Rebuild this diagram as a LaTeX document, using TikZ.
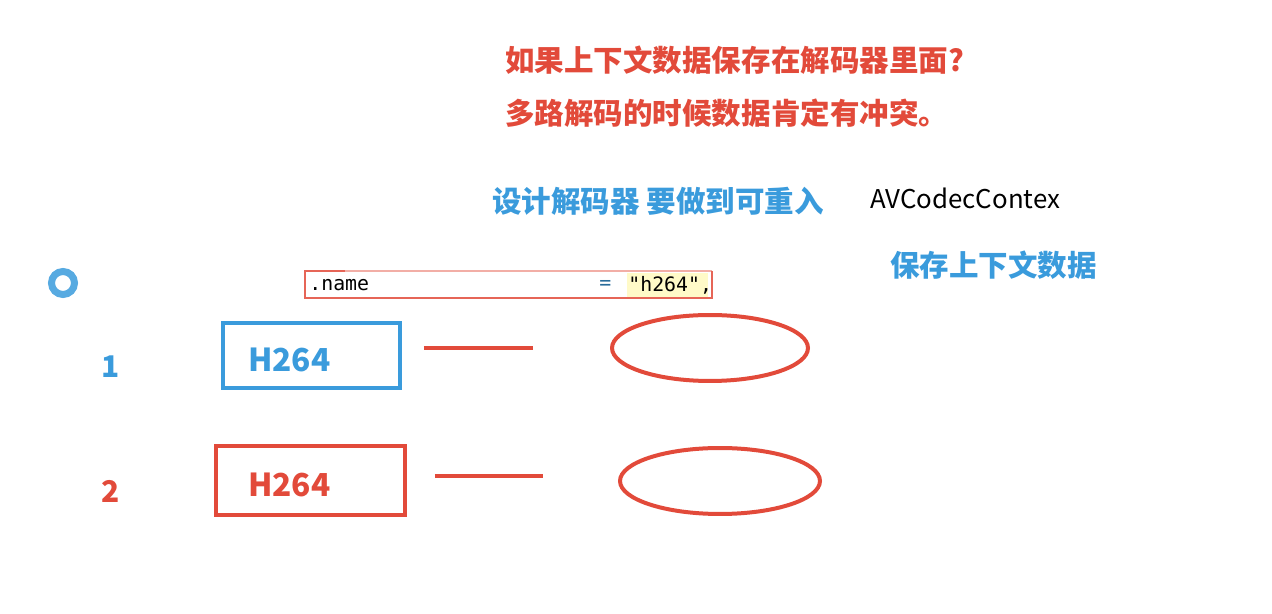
\documentclass[tikz,border=0pt]{standalone}
\usepackage{fontspec}
\setmainfont{Noto Sans CJK SC}
\newfontfamily\codefont{DejaVu Sans Mono}
\usepackage{xcolor}
\usetikzlibrary{shapes.geometric}
\definecolor{noteRed}{RGB}{226,74,58}
\definecolor{noteBlue}{RGB}{58,155,220}
\definecolor{codeYellow}{RGB}{255,250,200}

\begin{document}
\begin{tikzpicture}[x=0.02cm,y=-0.02cm,
  redtext/.style={text=noteRed,font=\fontsize{16.8}{20}\selectfont\bfseries,anchor=west,inner sep=0pt},
  bluetext/.style={text=noteBlue,font=\fontsize{16.8}{20}\selectfont\bfseries,anchor=west,inner sep=0pt},
  codebox/.style={draw=noteBlue,line width=0.08cm,text=noteBlue,font=\fontsize{18}{20}\selectfont\bfseries,align=left,text height=0.66cm,text depth=0pt},
  ctxellipse/.style={draw=noteRed,line width=0.08cm,ellipse,minimum width=3.92cm,minimum height=1.32cm}]
\useasboundingbox (0,0) rectangle (1272,614);

% questions at the top
\node[redtext] (q1) at (505,60) {如果上下文数据保存在解码器里面?};
\node[redtext] (q2) at (505,113) {多路解码的时候数据肯定有冲突。};
\node[bluetext] (reentrant) at (492,201) {设计解码器 要做到可重入};
\node[anchor=west,inner sep=0pt,font=\fontsize{14.7}{18}\selectfont] (ctx) at (870,198) {AVCodecContex};
\node[bluetext] (save) at (890,265) {保存上下文数据};

% loading ring
\draw[noteBlue!85,line width=0.14cm] (63,283) circle (11.5);

% code line
\fill[codeYellow] (627,273) rectangle (708,297);
\draw[noteRed!45,line width=0.05cm] (305,271) -- (712,271);
\draw[noteRed!85,line width=0.05cm] (712,271) -- (712,298) -- (305,298) -- (305,271) -- (345,271);
\node[anchor=west,inner sep=0pt,font=\codefont\fontsize{11.3}{13}\selectfont] (fld) at (309,285) {.name};
\node[anchor=west,inner sep=0pt,font=\codefont\fontsize{11.3}{13}\selectfont,text=noteBlue!70!black] (eq) at (599,285) {=};
\node[anchor=west,inner sep=0pt,font=\codefont\fontsize{11.3}{13}\selectfont] (val) at (628,285) {"h264",};

% decoder 1
\node[text=noteBlue,font=\fontsize{17}{20}\selectfont\bfseries] (n1) at (111,367) {1};
\node[codebox,minimum height=1.3cm,inner xsep=0.5cm,text width=2.54cm] (dec1) at (311.5,355.5) {H264};
\node[ctxellipse] (ctx1) at (710,348) {};
\draw[noteRed,line width=0.08cm,shorten <=0.44cm,shorten >=1.54cm] (dec1.east |- ctx1) -- (ctx1.west);

% decoder 2
\node[text=noteRed,font=\fontsize{17}{20}\selectfont\bfseries] (n2) at (111,491) {2};
\node[codebox,draw=noteRed,text=noteRed,minimum height=1.38cm,inner xsep=0.64cm,text width=2.5cm] (dec2) at (310.5,480.5) {H264};
\node[ctxellipse,minimum width=4cm] (ctx2) at (720,481) {};
\draw[noteRed,line width=0.08cm,shorten <=0.56cm,shorten >=1.5cm] (dec2.east |- 0,476) -- (ctx2.west |- 0,476);
\end{tikzpicture}
\end{document}
